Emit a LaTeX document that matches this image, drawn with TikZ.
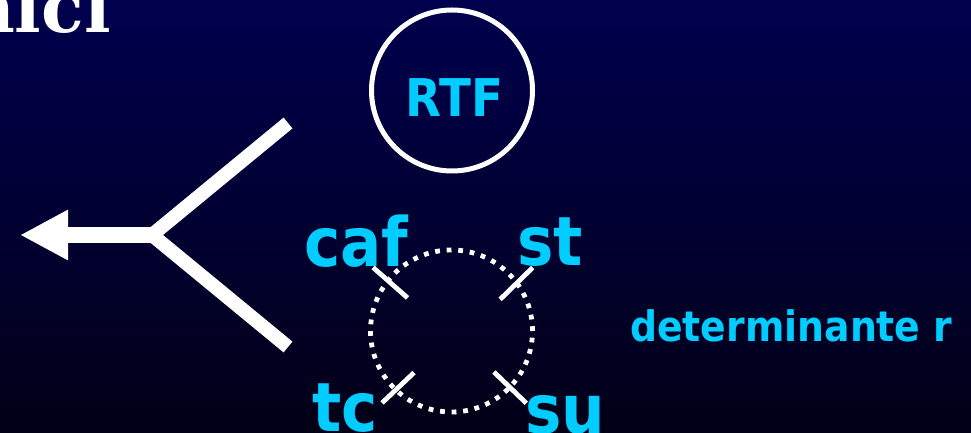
\documentclass[tikz,border=0pt]{standalone}
\usepackage{fontspec}
\newfontfamily\labfont{DejaVu Sans Bold}[FakeStretch=0.9]
\newfontfamily\headfont{DejaVu Serif Bold}
\usetikzlibrary{arrows.meta}
\definecolor{navytop}{RGB}{0,0,78}
\definecolor{navybot}{RGB}{2,0,22}
\definecolor{skycyan}{RGB}{0,204,255}
\begin{document}
\begin{tikzpicture}[x=1pt,y=1pt,
  lab/.style={text=skycyan, inner sep=0pt, anchor=base west},
  big/.style={font=\labfont\fontsize{68}{68}\selectfont},
  ringline/.style={white, line width=4.8pt},
  branch/.style={white, line width=14pt, line cap=butt, line join=miter}]
\useasboundingbox (0,0) rectangle (971,433);
% background
\shade[top color=navytop, bottom color=navybot] (0,0) rectangle (971,433);

% heading fragment
\node[font=\headfont\fontsize{70}{70}\selectfont, text=white, anchor=base east, inner sep=0pt] (title) at (111,400) {nici};

% RTF circle
\node[circle, draw=white, line width=5pt, minimum size=161pt, inner sep=0pt] (rtf) at (452,342.5) {};
\node[lab, anchor=base, font=\labfont\fontsize{52}{52}\selectfont] (rtflabel) at (454.5,316) {RTF};

% merging arrow
\coordinate (j) at (152,198);
\coordinate (up) at (288,310);
\coordinate (dn) at (288,86);
\coordinate (tip) at (20,198);
\draw[branch] (up) -- (j) -- (dn);
\draw[white, line width=16pt, -{Triangle[length=48pt,width=47pt]}] (j) -- (tip);

% dotted ring with four ticks
\node[circle, draw=white, line width=4.8pt, dash pattern=on 4.8pt off 6.77pt, minimum size=162pt, inner sep=0pt] (ring) at (451.5,102) {};

\node[lab, big] (caf) at (304,166) {caf};
\node[lab, big] (st) at (517,167) {st};
\node[lab, big] (tc) at (312,1) {tc};
\node[lab, big] (su) at (525,-1) {su};

\draw[ringline] ([shift={(143:55)}]ring.center) -- ([shift={(141:101)}]ring.center);
\draw[ringline] ([shift={(33:58)}]ring.center) -- ([shift={(38:103)}]ring.center);
\draw[ringline] ([shift={(228:56)}]ring.center) -- ([shift={(226:100)}]ring.center);
\draw[ringline] ([shift={(316:59)}]ring.center) -- ([shift={(316:104)}]ring.center);

\node[lab, font=\labfont\fontsize{42}{42}\selectfont] (det) at (630,91) {determinante r};
\end{tikzpicture}
\end{document}
